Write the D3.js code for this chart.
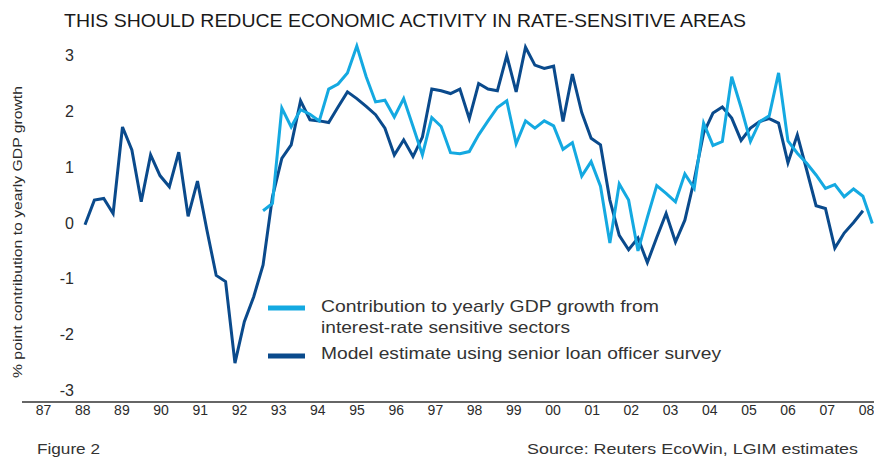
<!DOCTYPE html>
<html><head><meta charset="utf-8">
<script src="https://cdn.jsdelivr.net/npm/d3@7"></script>
<style>
html,body{margin:0;padding:0;background:#fff;}
svg{display:block;}
text{font-family:"Liberation Sans","Noto Sans",sans-serif;fill:#2b2b2b;}
</style></head>
<body>
<svg id="chart" width="874" height="459"></svg>
<script>
// ---- data ----
const yearLabels = ["87","88","89","90","91","92","93","94","95","96","97","98","99","00","01","02","03","04","05","06","07","08"];
const yTicks = [-3,-2,-1,0,1,2,3];
// quarterly, first quarter index 0; model estimate runs quarters 0..83
const modelEstimate = [-0.03,0.41,0.44,0.17,1.72,1.31,0.38,1.22,0.85,0.65,
  1.27,0.12,0.75,-0.12,-0.94,-1.05,-2.51,-1.77,-1.32,-0.75,
  0.47,1.16,1.40,2.19,1.85,1.83,1.80,2.08,2.35,2.23,
  2.09,1.94,1.70,1.22,1.49,1.19,1.54,2.40,2.37,2.32,
  2.40,1.87,2.50,2.40,2.37,3.00,2.35,3.15,2.83,2.77,
  2.81,1.82,2.67,1.98,1.52,1.40,0.41,-0.22,-0.48,-0.27,
  -0.71,-0.26,0.17,-0.34,0.05,0.77,1.61,1.97,2.08,1.88,
  1.48,1.70,1.82,1.87,1.79,1.08,1.58,0.95,0.31,0.26,
  -0.45,-0.18,0.01,0.22];
// contribution series starts at quarter index 19 and runs to 84
const contributionStart = 19;
const contribution = [0.22,0.35,2.06,1.72,2.03,1.95,1.83,2.40,2.49,2.69,
  3.17,2.62,2.17,2.20,1.90,2.23,1.73,1.22,1.89,1.73,
  1.26,1.24,1.28,1.58,1.83,2.07,2.19,1.42,1.83,1.70,
  1.83,1.74,1.32,1.44,0.84,1.10,0.66,-0.36,0.70,0.41,
  -0.50,0.10,0.67,0.53,0.38,0.88,0.62,1.79,1.39,1.46,
  2.62,2.07,1.46,1.82,1.92,2.69,1.47,1.25,1.07,0.86,
  0.62,0.69,0.47,0.61,0.48,-0.01];
const seriesNames = ["Contribution to yearly GDP growth from", "interest-rate sensitive sectors", "Model estimate using senior loan officer survey"];
const colors = {light:"#14a9e1", dark:"#0a4a8c"};

// ---- drawing ----
const svg = d3.select("#chart");
const x = d3.scaleLinear().domain([0, 84]).range([85, 872.3]);
const y = d3.scaleLinear().domain([-3, 3]).range([390.4, 55.6]);
const xLab = d3.scalePoint().domain(yearLabels).range([43, 866]);

// title
svg.append("text").attr("x", 64).attr("y", 27)
  .attr("textLength", 682).attr("lengthAdjust", "spacingAndGlyphs")
  .style("font-size", "18px").style("fill","#1a1a1a")
  .text("THIS SHOULD REDUCE ECONOMIC ACTIVITY IN RATE-SENSITIVE AREAS");

// y axis title
svg.append("text")
  .attr("transform", "translate(22,232) rotate(-90)")
  .attr("text-anchor", "middle")
  .attr("textLength", 292).attr("lengthAdjust", "spacingAndGlyphs")
  .style("font-size", "13px")
  .text("% point contribution to yearly GDP growth");

// y axis
const yAxis = svg.append("g").attr("transform", "translate(74,0)")
  .call(d3.axisLeft(y).tickValues(yTicks).tickSize(0).tickPadding(0).tickFormat(d => String(d)));
yAxis.select(".domain").remove();
yAxis.selectAll("text").style("font-size", "16px").style("font-family", '"Liberation Sans","Noto Sans",sans-serif').style("fill","#2b2b2b");

// x axis baseline
svg.append("line").attr("x1", 22).attr("x2", 874).attr("y1", 402).attr("y2", 402)
  .attr("stroke", "#333").attr("stroke-width", 1.5);

const xAxis = svg.append("g").attr("transform", "translate(0,402)")
  .call(d3.axisBottom(xLab).tickSize(0).tickPadding(3));
xAxis.select(".domain").remove();
xAxis.selectAll("text").style("font-size", "14px").style("font-family", '"Liberation Sans Narrow","Liberation Sans",sans-serif').style("fill","#2b2b2b");

// lines
const line = d3.line().defined(d => d.v != null).x(d => x(d.i)).y(d => y(d.v)).curve(d3.curveLinear);
const darkData = modelEstimate.map((v, i) => ({i, v}));
const lightData = contribution.map((v, k) => ({i: k + contributionStart, v}));

svg.append("path").datum(darkData).attr("d", line)
  .attr("fill", "none").attr("stroke", colors.dark).attr("stroke-width", 3).attr("stroke-linejoin", "miter").attr("stroke-miterlimit", 4);
svg.append("path").datum(lightData).attr("d", line)
  .attr("fill", "none").attr("stroke", colors.light).attr("stroke-width", 3).attr("stroke-linejoin", "miter").attr("stroke-miterlimit", 4);

// legend
const lg = svg.append("g");
lg.append("line").attr("x1", 268).attr("x2", 305).attr("y1", 308).attr("y2", 308).attr("stroke", colors.light).attr("stroke-width", 5);
lg.append("line").attr("x1", 268).attr("x2", 305).attr("y1", 356).attr("y2", 356).attr("stroke", colors.dark).attr("stroke-width", 5);
lg.append("text").attr("x", 321).attr("y", 312).attr("textLength", 338).attr("lengthAdjust","spacingAndGlyphs").style("font-size", "17px").style("fill","#333").text(seriesNames[0]);
lg.append("text").attr("x", 321).attr("y", 333).attr("textLength", 249).attr("lengthAdjust","spacingAndGlyphs").style("font-size", "17px").style("fill","#333").text(seriesNames[1]);
lg.append("text").attr("x", 321).attr("y", 359).attr("textLength", 400).attr("lengthAdjust","spacingAndGlyphs").style("font-size", "17px").style("fill","#333").text(seriesNames[2]);

// footer
svg.append("text").attr("x", 37).attr("y", 454).style("font-size", "15px").style("fill","#333")
  .attr("textLength", 63).attr("lengthAdjust","spacingAndGlyphs").text("Figure 2");
svg.append("text").attr("x", 858).attr("y", 454).attr("text-anchor", "end").style("font-size", "15px").style("fill","#333")
  .attr("textLength", 331).attr("lengthAdjust","spacingAndGlyphs").text("Source:  Reuters EcoWin, LGIM estimates");
</script>
</body></html>
